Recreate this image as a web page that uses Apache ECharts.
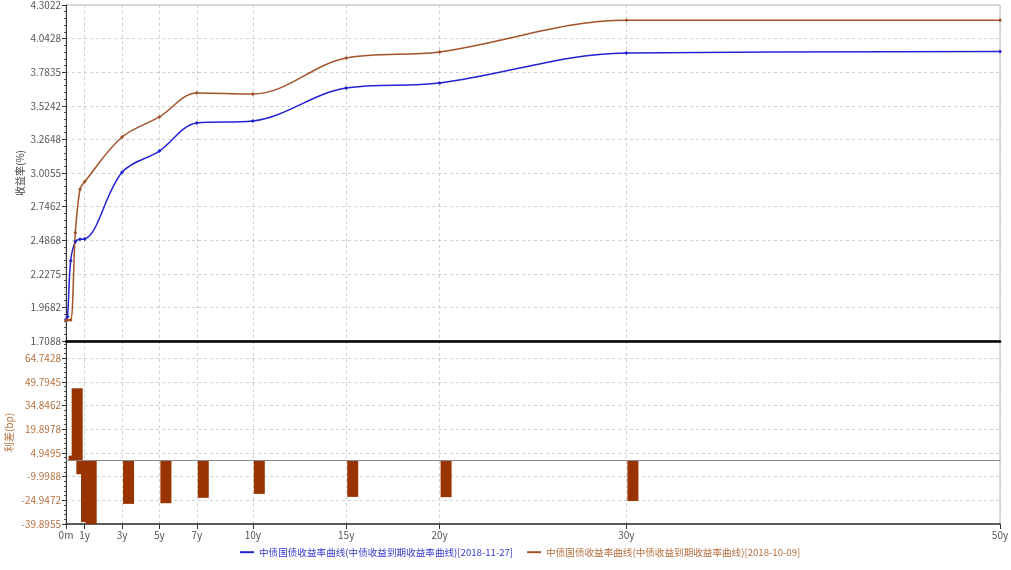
<!DOCTYPE html>
<html><head><meta charset="utf-8">
<script src="https://cdn.jsdelivr.net/npm/echarts@6/dist/echarts.min.js"></script>
<style>html,body{margin:0;padding:0;background:#fff}#c{width:1011px;height:570px}</style>
</head><body><div id="c"></div>
<script>
// ---- data ----
const tenors = [0, 0.083, 0.25, 0.5, 0.75, 1, 3, 5, 7, 10, 15, 20, 30, 50];
const yield1127 = [1.875, 1.896, 2.329, 2.475, 2.494, 2.496, 3.011, 3.175, 3.391, 3.407, 3.662, 3.700, 3.932, 3.943];
const yield1009 = [1.868, 1.871, 1.871, 2.545, 2.880, 2.938, 3.283, 3.438, 3.623, 3.615, 3.893, 3.940, 4.184, 4.184];
const spreadTenors = [0.083, 0.25, 0.5, 0.75, 1, 3, 5, 7, 10, 15, 20, 30];
const spreadBp = [3.2, 45.7, -8.5, -38.6, -44.2, -27.2, -26.8, -23.4, -20.9, -22.8, -23.0, -25.4];
const xTickValues = [0, 1, 3, 5, 7, 10, 15, 20, 30, 50];
const name1 = '中债国债收益率曲线(中债收益到期收益率曲线)[2018-11-27]';
const name2 = '中债国债收益率曲线(中债收益到期收益率曲线)[2018-10-09]';

const BLUE = '#2323d0', BROWN = '#a3532a', BAR = '#993300';
const FONT = '"Noto Sans CJK SC", "Noto Sans", sans-serif';
const gridLine = {show: true, lineStyle: {color: '#d0d0d0', type: [3, 3], width: 1}};

const chart = echarts.init(document.getElementById('c'), null, {renderer: 'canvas'});
chart.setOption({
  animation: false,
  textStyle: {fontFamily: FONT},
  grid: [
    {left: 66, right: 11, top: 5, height: 336, show: true, borderColor: '#b5b5b5', borderWidth: 1,
     containLabel: false, outerBoundsMode: 'none'},
    {left: 66, right: 11, top: 341, height: 183, show: true, borderColor: '#b5b5b5', borderWidth: 1,
     containLabel: false, outerBoundsMode: 'none'}
  ],
  legend: {
    bottom: 8, left: 235, icon: 'rect', itemWidth: 14, itemHeight: 2, itemGap: 14,
    textStyle: {fontSize: 9.6, fontFamily: FONT},
    data: [
      {name: name1, textStyle: {color: '#3a3ad0'}},
      {name: name2, textStyle: {color: '#b5703f'}}
    ]
  },
  xAxis: [
    {gridIndex: 0, type: 'value', min: 0, max: 50,
     axisLine: {show: true, onZero: false, lineStyle: {color: '#000', width: 2.5}},
     axisTick: {show: false, customValues: xTickValues},
     axisLabel: {show: false, customValues: xTickValues},
     splitLine: gridLine},
    {gridIndex: 1, type: 'value', min: 0, max: 50,
     axisLine: {show: true, onZero: false, lineStyle: {color: '#333', width: 1.5}},
     axisTick: {show: true, length: 5, customValues: xTickValues, lineStyle: {color: '#333'}},
     axisLabel: {show: true, customValues: xTickValues, fontSize: 10, color: '#555', margin: 6,
       formatter: v => v === 0 ? '0m' : v + 'y'},
     splitLine: gridLine}
  ],
  yAxis: [
    {gridIndex: 0, type: 'value', min: 1.70883, max: 4.30217, interval: 0.259334,
     name: '收益率(%)', nameLocation: 'middle', nameRotate: 90, nameGap: 41, nameMoveOverlap: false,
     nameTextStyle: {fontSize: 10, color: '#444'},
     axisLine: {show: true, lineStyle: {color: '#333'}},
     axisTick: {show: true, length: 4, lineStyle: {color: '#333'}},
     minorTick: {show: true, splitNumber: 5, length: 2, lineStyle: {color: '#555'}},
     axisLabel: {fontSize: 10, color: '#555', margin: 5, formatter: v => v.toFixed(4)},
     splitLine: gridLine},
    {gridIndex: 1, type: 'value', min: -39.895497, max: 75.5, interval: 14.948333,
     name: '利差(bp)', nameLocation: 'middle', nameRotate: 90, nameGap: 52, nameMoveOverlap: false,
     nameTextStyle: {fontSize: 10, color: '#b5703f'},
     axisLine: {show: true, lineStyle: {color: '#333'}},
     axisTick: {show: true, length: 4, lineStyle: {color: '#333'}},
     minorTick: {show: true, splitNumber: 5, length: 2, lineStyle: {color: '#555'}},
     axisLabel: {fontSize: 10, color: '#b5703f', margin: 5, showMaxLabel: false, formatter: v => v.toFixed(4)},
     splitLine: gridLine}
  ],
  series: [
    {name: name1, type: 'line', xAxisIndex: 0, yAxisIndex: 0, smooth: 0.35,
     data: tenors.map((t, i) => [t, yield1127[i]]),
     symbol: 'diamond', symbolSize: 4, showSymbol: true,
     itemStyle: {color: BLUE}, lineStyle: {color: BLUE, width: 1.5}},
    {name: name2, type: 'line', xAxisIndex: 0, yAxisIndex: 0, smooth: 0.35,
     data: tenors.map((t, i) => [t, yield1009[i]]),
     symbol: 'diamond', symbolSize: 4, showSymbol: true,
     itemStyle: {color: BROWN}, lineStyle: {color: BROWN, width: 1.5}},
    {name: 'spread', type: 'custom', xAxisIndex: 1, yAxisIndex: 1,
     data: spreadTenors.map((t, i) => [t, spreadBp[i]]),
     renderItem: function (params, api) {
       const t = api.value(0), v = api.value(1);
       const p0 = api.coord([t, 0]), p1 = api.coord([t, v]);
       const rect = echarts.graphic.clipRectByRect({
         x: p0[0] + 1, y: Math.min(p0[1], p1[1]), width: 11, height: Math.abs(p1[1] - p0[1])
       }, params.coordSys);
       if (!rect) return;
       return {type: 'rect', shape: rect, style: {fill: BAR}};
     },
     markLine: {silent: true, symbol: 'none', label: {show: false},
       lineStyle: {color: '#888', type: 'solid', width: 1},
       data: [{yAxis: 0}]}
    }
  ]
});
</script>
</body></html>
